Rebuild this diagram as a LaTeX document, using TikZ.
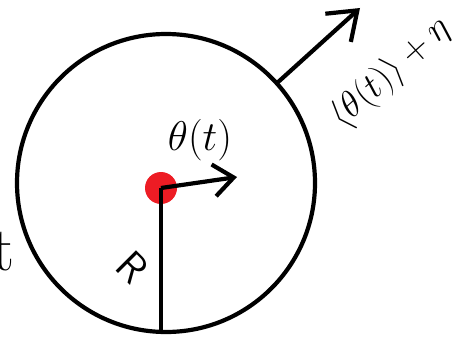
\documentclass[tikz,border=0pt]{standalone}
\usepackage{amsmath}
\usepackage{xcolor}
\usetikzlibrary{arrows.meta,positioning,calc}

\definecolor{dotred}{RGB}{237,28,36}
\newcommand{\biglbl}[2][2]{\scalebox{#1}{\huge #2}}

\begin{document}
\begin{tikzpicture}[x=1pt, y=1pt,
    ring/.style={draw, circle, line width=4.2pt, minimum size=298pt, inner sep=0pt, outer sep=0pt},
    particle/.style={circle, fill=dotred, minimum size=32pt, inner sep=0pt},
    arrow/.style={-{Straight Barb[length=20pt, width=32pt, line width=4.2pt]}, line width=4.2pt},
    bigarrow/.style={-{Straight Barb[length=26pt, width=38pt, line width=4.2pt]}, line width=4.2pt},
    lbl/.style={inner sep=0pt}
]
    \useasboundingbox (0,0) rectangle (458,341);

    % Circle and particle
    \node[ring] (ring) at (166,158) {};
    \node[particle] (dot) at (161,153) {};

    % Radius
    \draw[line width=4.2pt] (dot.center) -- (dot.center |- ring.south);
    \node[lbl, rotate=-45] (rlabel) at (133,74) {\biglbl{\sffamily R}};

    % Own heading
    \coordinate (head) at (237,164);
    \draw[arrow] (dot.center) -- (head);
    \node[lbl] (theta) at (200,201) {\biglbl{$\theta(t)$}};

    % Mean heading of neighbours plus noise
    \coordinate (far) at (360,333);
    \draw[bigarrow] (ring.42) -- (far);
    \node[lbl, rotate=42] (mean) at (391,268) {\biglbl[1.78]{$\langle\theta(t)\rangle+\eta$}};

    % Time
    \node[lbl, anchor=base east] (time) at (15,71) {\scalebox{3}{\huge t}};
\end{tikzpicture}
\end{document}
